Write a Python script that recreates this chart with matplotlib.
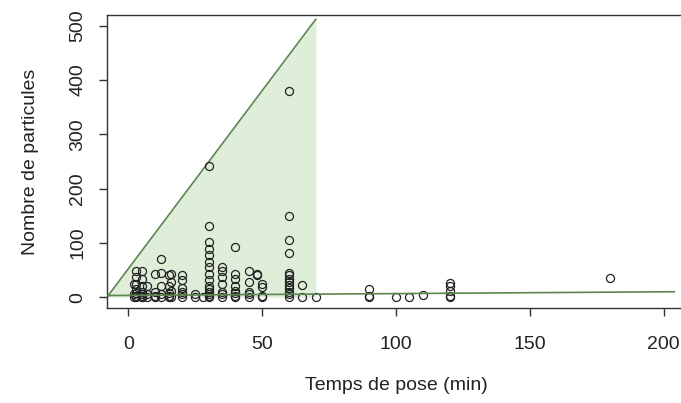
import numpy as np
import matplotlib.pyplot as plt

plt.rcParams['font.family'] = ['Liberation Sans', 'DejaVu Sans']

# temps de pose (min) -> nombres de particules observes
groups = {
    2: [25, 5, 0],
    3: [49, 37, 25, 15, 8, 3, 0],
    5: [49, 34, 21, 10, 5, 2, 0, 0],
    7: [21, 5, 0],
    10: [43, 10, 3, 0],
    12: [71, 45, 21, 5, 0],
    15: [40, 21, 8, 3, 0],
    16: [43, 28, 12, 0],
    20: [40, 31, 17, 10, 5, 0],
    25: [6, 0],
    28: [0],
    30: [241, 132, 101, 89, 77, 64, 55, 43, 31, 20, 15, 10, 6, 3, 0],
    35: [56, 49, 37, 25, 10, 5, 0],
    40: [93, 42, 34, 20, 12, 8, 3, 0],
    45: [49, 28, 10, 5, 0],
    48: [43, 40],
    50: [24, 18, 3, 0],
    60: [380, 150, 106, 82, 45, 40, 34, 28, 22, 16, 10, 5, 0],
    65: [23, 1],
    70: [0],
    90: [15, 3, 0],
    100: [0],
    105: [0],
    110: [4],
    120: [26, 21, 12, 2, 0],
    180: [36],
}
temps = []
particules = []
for t, vals in groups.items():
    temps += [t] * len(vals)
    particules += vals

# enveloppe (zone verte) et droite de base
env_x = [-8, 70]
env_haut = [0, 512]
env_bas = [0, 0]
base_x = [-8, 204]
base_y = [3, 10]

vert = '#5b8650'
vert_clair = '#dfeed8'

fig = plt.figure(figsize=(6.81, 4.03), dpi=100)
ax = fig.add_axes([0.1571, 0.2357, 0.8488, 0.7271])

ax.fill_between(env_x, env_bas, env_haut, color=vert_clair, lw=0, zorder=1)
ax.plot(env_x, env_haut, color=vert, lw=1.2, zorder=2)
ax.plot(temps, particules, 'o', ms=5.8, mfc='none', mec='#222222', mew=0.9, zorder=3)
ax.plot(base_x, base_y, color=vert, lw=1.2, zorder=4)

ax.set_xlim(-8, 208)
ax.set_ylim(-20, 520)
ax.set_xticks([0, 50, 100, 150, 200])
ax.set_yticks([0, 100, 200, 300, 400, 500])
for s in ax.spines.values():
    s.set_color('#333333')
    s.set_linewidth(1.0)
ax.tick_params(axis='both', direction='out', length=6, width=1.0, color='#333333',
               labelsize=14, labelcolor='#222222')
ax.tick_params(axis='x', pad=14)
ax.tick_params(axis='y', pad=9)
for lab in ax.get_yticklabels():
    lab.set_rotation(90)
    lab.set_va('center')

ax.set_xlabel('Temps de pose (min)', fontsize=14, color='#222222', va='center')
ax.xaxis.set_label_coords(0.5, -0.263)
ax.set_ylabel('Nombre de particules', fontsize=14, color='#222222', va='center')
ax.yaxis.set_label_coords(-0.1315, 0.5)

fig.savefig('out.png', dpi=100)
